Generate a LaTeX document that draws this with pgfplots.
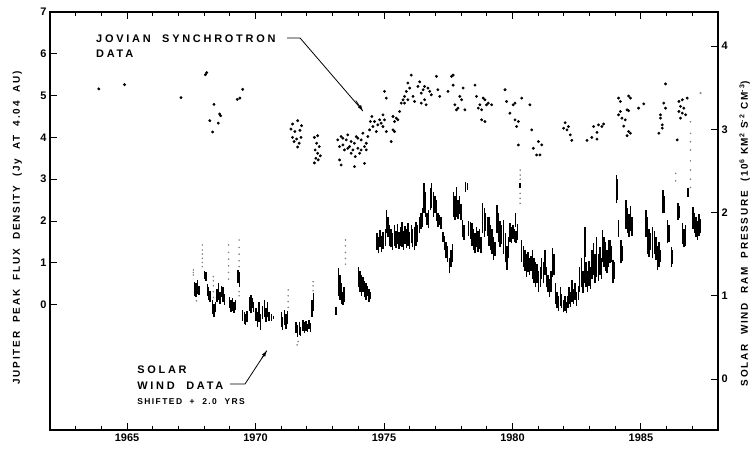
\documentclass[border=0pt]{standalone}
\usepackage{fontspec}
\setmainfont{Liberation Sans}
\usepackage{pgfplots}
\pgfplotsset{compat=1.18}
\usepackage{pgfplotstable}
\usetikzlibrary{arrows.meta}

\pgfplotstableread{
x y
1963.90 5.16
1964.90 5.26
1967.10 4.95
1968.05 5.50
1968.10 5.55
1968.22 4.40
1968.33 4.13
1968.38 4.79
1968.55 4.34
1968.60 4.56
1968.64 4.52
1969.29 4.91
1969.39 4.94
1969.50 5.15
1971.38 4.20
1971.44 4.32
1971.44 4.00
1971.50 3.90
1971.53 4.14
1971.60 3.96
1971.64 4.40
1971.64 3.77
1971.70 3.86
1971.73 4.17
1971.77 4.00
1971.79 4.28
1972.29 4.00
1972.29 3.39
1972.32 3.70
1972.35 3.50
1972.38 3.86
1972.42 4.04
1972.42 3.62
1972.44 3.46
1972.48 3.78
1972.52 3.56
1973.20 3.94
1973.27 3.78
1973.33 4.02
1973.40 3.82
1973.46 3.70
1973.53 3.94
1973.59 4.06
1973.66 3.78
1973.72 3.62
1973.79 3.70
1973.85 3.86
1973.88 3.54
1973.92 4.02
1973.98 3.74
1974.05 3.62
1974.11 3.94
1974.18 4.10
1974.24 3.78
1974.31 3.70
1974.37 4.02
1974.44 4.18
1974.47 4.38
1974.53 4.50
1974.57 4.26
1974.63 4.38
1974.70 4.14
1974.76 4.30
1974.83 4.42
1973.27 3.46
1973.33 3.34
1973.85 3.30
1974.24 3.38
1973.40 3.98
1973.72 3.90
1973.98 3.98
1974.31 3.86
1973.59 3.74
1974.11 3.70
1974.96 4.54
1975.02 4.42
1974.89 4.34
1974.96 4.26
1975.09 4.14
1975.35 4.50
1975.41 4.38
1975.48 4.46
1975.54 4.42
1975.35 4.18
1975.28 3.90
1975.41 4.14
1975.02 5.10
1975.09 4.94
1975.61 4.62
1975.67 4.82
1975.74 4.90
1975.80 4.98
1975.87 5.10
1975.93 5.30
1976.00 5.18
1975.93 4.90
1976.06 5.49
1976.13 4.98
1976.19 4.86
1976.32 5.22
1976.39 5.33
1976.45 5.06
1976.52 5.14
1976.58 4.90
1976.64 4.78
1976.71 5.18
1976.78 5.10
1976.84 5.02
1975.80 4.82
1976.45 4.82
1976.58 5.22
1977.04 5.46
1977.10 5.14
1977.17 4.98
1977.49 5.10
1977.63 5.46
1977.69 5.49
1977.69 5.25
1977.76 4.78
1977.82 4.66
1977.88 4.70
1977.95 4.98
1978.02 4.90
1978.08 5.18
1978.15 4.66
1978.54 5.25
1978.60 4.98
1978.67 4.70
1978.73 4.78
1978.80 4.66
1978.86 4.94
1978.93 4.90
1978.99 4.78
1979.06 4.82
1979.19 4.78
1978.80 4.42
1978.93 4.38
1979.71 5.14
1979.77 4.86
1979.90 4.58
1980.03 4.78
1980.10 4.82
1980.10 4.42
1980.23 4.38
1980.36 4.94
1980.16 4.26
1980.68 4.78
1980.75 4.18
1980.23 3.82
1980.81 3.74
1980.94 3.58
1981.07 3.58
1981.01 3.90
1981.14 3.82
1982.05 4.35
1981.99 4.22
1982.12 4.18
1982.18 4.26
1982.25 4.06
1982.31 3.93
1982.90 3.93
1983.09 4.00
1983.29 3.96
1983.16 4.26
1983.29 4.12
1983.35 4.30
1983.55 4.32
1983.48 4.26
1984.13 4.94
1984.20 4.86
1984.52 4.99
1984.59 4.94
1984.20 4.62
1984.13 4.54
1984.26 4.46
1984.39 4.42
1984.46 4.66
1984.52 4.64
1984.33 4.27
1984.52 4.14
1984.59 4.10
1984.46 4.04
1984.91 4.70
1985.11 4.80
1985.96 5.28
1985.89 4.82
1985.96 4.70
1985.76 4.54
1985.76 4.46
1985.83 4.30
1985.83 4.22
1985.70 4.10
1986.41 3.94
1986.48 4.86
1986.61 4.90
1986.54 4.74
1986.48 4.62
1986.61 4.58
1986.74 4.54
1986.67 4.70
1986.80 4.94
1986.54 4.46
}\jovian

\pgfplotstableread{
x lo hi
1967.62 1.00 1.17
1967.68 0.98 1.15
1967.74 1.02 1.19
1967.80 1.01 1.12
1968.02 1.20 1.30
1968.07 1.18 1.28
1968.12 1.00 1.14
1968.17 0.95 1.10
1968.22 0.93 1.06
1968.33 0.78 0.95
1968.38 0.75 0.90
1968.43 0.80 0.93
1968.50 0.92 1.08
1968.56 0.95 1.15
1968.62 0.90 1.05
1968.68 0.98 1.12
1968.74 0.93 1.10
1968.80 0.89 1.02
1968.98 0.85 0.99
1969.04 0.80 0.95
1969.10 0.82 0.97
1969.16 0.79 0.92
1969.22 0.83 0.95
1969.32 1.15 1.31
1969.37 1.10 1.28
1969.50 0.70 0.83
1969.56 0.66 0.80
1969.62 0.65 0.78
1969.67 0.68 0.82
1969.76 0.82 0.98
1969.82 0.79 1.01
1969.88 0.85 0.97
1969.93 0.80 0.92
1970.02 0.70 0.85
1970.08 0.62 0.80
1970.14 0.68 0.93
1970.20 0.59 0.78
1970.28 0.72 0.88
1970.34 0.75 0.95
1970.40 0.69 0.85
1970.46 0.74 0.92
1970.52 0.70 0.80
1970.62 0.70 0.78
1970.70 0.72 0.76
1971.00 0.62 0.80
1971.06 0.59 0.75
1971.12 0.65 0.83
1971.18 0.60 0.78
1971.24 0.66 0.82
1971.58 0.55 0.69
1971.64 0.51 0.65
1971.70 0.53 0.68
1971.76 0.52 0.62
1971.84 0.58 0.71
1971.90 0.55 0.68
1971.96 0.58 0.70
1972.02 0.56 0.66
1972.08 0.60 0.71
1972.14 0.57 0.67
1972.20 0.75 0.95
1972.26 0.82 1.03
1973.13 0.77 0.87
1973.22 1.00 1.33
1973.28 0.95 1.25
1973.34 0.90 1.15
1973.40 0.89 1.05
1973.45 0.92 1.10
1974.00 1.10 1.35
1974.06 1.05 1.30
1974.12 1.00 1.25
1974.18 1.05 1.22
1974.24 0.98 1.18
1974.30 0.95 1.15
1974.36 1.00 1.12
1974.42 0.93 1.08
1974.48 0.96 1.05
1974.72 1.55 1.75
1974.78 1.51 1.70
1974.84 1.58 1.79
1974.90 1.53 1.72
1974.96 1.56 1.76
1975.05 1.60 1.80
1975.10 1.75 2.03
1975.16 1.70 1.95
1975.22 1.60 1.85
1975.28 1.58 1.80
1975.34 1.55 1.75
1975.40 1.60 1.85
1975.46 1.57 1.78
1975.52 1.62 1.86
1975.58 1.56 1.76
1975.64 1.60 1.82
1975.70 1.58 1.89
1975.76 1.55 1.78
1975.82 1.62 1.84
1975.88 1.57 1.80
1975.94 1.60 1.87
1976.00 1.56 1.77
1976.06 1.63 1.85
1976.12 1.58 1.80
1976.18 1.55 1.82
1976.24 1.60 1.89
1976.30 1.65 1.85
1976.38 1.75 1.95
1976.44 1.80 1.99
1976.50 1.82 2.05
1976.55 2.00 2.35
1976.61 1.95 2.25
1976.67 1.85 2.00
1976.73 1.81 2.03
1976.80 2.03 2.30
1976.86 2.05 2.35
1976.92 1.95 2.25
1976.98 2.00 2.20
1977.04 1.90 2.15
1977.10 1.83 1.99
1977.16 1.85 1.97
1977.22 1.80 1.95
1977.30 1.65 1.77
1977.36 1.55 1.72
1977.42 1.45 1.65
1977.48 1.40 1.60
1977.54 1.27 1.45
1977.60 1.35 1.55
1977.66 1.40 1.62
1977.70 1.95 2.25
1977.76 1.91 2.20
1977.82 1.95 2.31
1977.88 1.92 2.15
1977.94 1.98 2.20
1978.00 1.91 2.10
1978.06 1.70 1.91
1978.12 1.67 1.85
1978.18 2.25 2.37
1978.24 2.27 2.35
1978.30 1.72 1.90
1978.36 1.68 1.88
1978.42 1.60 1.87
1978.48 1.55 1.80
1978.54 1.51 1.75
1978.60 1.58 1.82
1978.66 1.53 1.78
1978.72 1.56 1.80
1978.78 1.51 1.70
1978.84 1.75 2.11
1978.90 1.71 2.05
1978.96 1.78 2.00
1979.02 1.72 1.95
1979.08 1.60 1.95
1979.14 1.55 1.85
1979.20 1.50 1.80
1979.26 1.43 1.70
1979.32 1.48 1.65
1979.40 1.75 2.09
1979.46 1.65 2.00
1979.52 1.59 1.90
1979.58 1.62 1.85
1979.66 1.50 1.91
1979.72 1.40 1.75
1979.78 1.31 1.60
1979.84 1.45 1.70
1979.90 1.65 1.87
1979.96 1.63 1.82
1980.02 1.68 1.85
1980.08 1.65 1.80
1980.12 1.83 1.99
1980.14 1.63 1.78
1980.20 1.67 1.86
1980.30 2.29 2.35
1980.36 1.40 1.67
1980.42 1.35 1.60
1980.48 1.30 1.55
1980.54 1.23 1.50
1980.60 1.28 1.52
1980.66 1.25 1.45
1980.72 1.30 1.48
1980.78 1.20 1.55
1980.84 1.15 1.45
1980.90 1.10 1.40
1980.96 1.15 1.38
1981.02 1.05 1.30
1981.08 1.10 1.35
1981.14 1.20 1.45
1981.20 1.15 1.40
1981.26 1.25 1.55
1981.32 1.10 1.35
1981.38 1.05 1.25
1981.44 0.99 1.20
1981.50 1.05 1.30
1981.56 1.23 1.57
1981.62 1.25 1.50
1981.68 0.90 1.15
1981.74 0.85 1.05
1981.80 0.82 1.00
1981.86 0.88 1.10
1981.92 0.85 1.02
1981.98 0.80 0.95
1982.04 0.82 1.00
1982.10 0.79 0.92
1982.16 0.85 1.00
1982.20 0.90 1.10
1982.26 0.87 1.05
1982.32 0.92 1.19
1982.38 0.90 1.08
1982.44 0.95 1.15
1982.50 0.88 1.05
1982.56 0.95 1.12
1982.62 1.05 1.35
1982.68 1.10 1.45
1982.74 1.03 1.30
1982.80 1.15 1.47
1982.83 1.47 1.83
1982.86 1.10 1.40
1982.92 1.05 1.30
1982.98 1.12 1.42
1983.04 1.08 1.35
1983.10 1.20 1.55
1983.16 1.25 1.63
1983.22 1.15 1.50
1983.28 1.22 1.71
1983.34 1.18 1.50
1983.40 1.25 1.58
1983.46 1.20 1.45
1983.50 1.40 1.79
1983.56 1.35 1.70
1983.62 1.30 1.65
1983.68 1.27 1.55
1983.74 1.35 1.67
1983.80 1.39 1.67
1983.86 1.40 1.60
1983.92 1.15 1.43
1983.98 1.20 1.40
1984.04 2.11 2.45
1984.09 2.15 2.40
1984.12 1.71 1.91
1984.22 1.39 1.67
1984.28 1.42 1.60
1984.42 1.80 2.15
1984.48 1.75 2.05
1984.54 1.71 1.98
1984.60 1.78 2.08
1984.66 1.72 1.95
1985.20 1.71 2.03
1985.26 1.50 1.95
1985.32 1.47 1.80
1985.38 1.55 1.75
1985.46 1.45 1.83
1985.52 1.50 1.78
1985.58 1.43 1.70
1985.64 1.31 1.60
1985.70 1.35 1.65
1985.76 1.40 1.55
1985.86 1.99 2.27
1985.92 2.00 2.20
1986.04 1.63 1.91
1986.10 1.65 1.85
1986.18 1.35 1.59
1986.24 1.38 1.55
1986.44 1.91 2.11
1986.50 1.93 2.08
1986.62 1.62 1.87
1986.68 1.59 1.80
1986.74 1.60 1.85
1986.83 2.19 2.29
1987.02 1.80 2.07
1987.08 1.75 2.00
1987.14 1.70 1.95
1987.20 1.67 1.90
1987.26 1.72 1.98
1987.32 1.75 1.92
}\wind

\pgfplotstableread{
x y
1967.58 1.25
1967.58 1.28
1967.58 1.31
1967.70 0.94
1967.93 1.35
1967.93 1.40
1967.93 1.45
1967.93 1.50
1967.93 1.55
1967.93 1.61
1968.36 0.98
1968.36 1.05
1968.36 1.12
1968.36 1.18
1968.36 1.23
1968.95 1.20
1968.95 1.28
1968.95 1.36
1968.95 1.44
1968.95 1.52
1968.95 1.61
1969.36 1.00
1969.36 1.05
1969.36 1.35
1969.36 1.42
1969.36 1.50
1969.36 1.58
1969.36 1.67
1971.27 0.86
1971.27 0.93
1971.27 1.00
1971.27 1.07
1971.62 0.41
1971.66 0.45
1972.24 1.06
1972.24 1.12
1972.24 1.17
1973.50 1.38
1973.50 1.45
1973.50 1.52
1973.50 1.60
1973.50 1.67
1980.30 2.11
1980.30 2.17
1980.30 2.23
1980.30 2.40
1980.30 2.45
1980.30 2.51
1986.35 2.38
1986.35 2.47
1986.93 2.30
1986.93 2.40
1986.93 2.51
1986.93 2.62
1986.93 2.75
1986.93 2.85
1986.93 2.95
1986.93 3.09
}\windfaint

\newcommand\ylbl{\fontsize{10}{12}\selectfont\bfseries\addfontfeature{LetterSpace=18}}
\newcommand\lbl{\fontsize{11}{12}\selectfont\bfseries\addfontfeature{LetterSpace=25}}
\newcommand\tkl{\fontsize{11}{12}\selectfont\bfseries}

\begin{document}
\begin{tikzpicture}
\begin{axis}[
  scale only axis, width=668bp, height=418bp,
  xmin=1962, xmax=1988, ymin=-3, ymax=7,
  xtick={1965,1970,1975,1980,1985},
  xticklabels={1965,1970,1975,1980,1985},
  minor xtick={1963,1964,1966,1967,1968,1969,1971,1972,1973,1974,1976,1977,1978,1979,1981,1982,1983,1984,1986,1987},
  ytick={0,1,2,3,4,5,6,7},
  xtick pos=both, xticklabel pos=bottom,
  ytick pos=left,
  tick align=inside,
  major tick length=7bp, minor tick length=4bp,
  axis line style={line width=1.1bp},
  every tick/.style={black, line width=0.9bp},
  /pgf/number format/assume math mode=true,
  ticklabel style={font=\tkl},
  every axis y label/.style={at={(axis description cs:-0.049,0.484)}, rotate=90, anchor=center},
  ylabel={\ylbl JUPITER\ \ PEAK\ \ FLUX\ \ DENSITY\ \ (Jy\ \ AT\ \ 4.04\ \ AU)},
]
\coordinate (SW) at (rel axis cs:0,0);
\coordinate (NE) at (rel axis cs:1,1);
\addplot[only marks, mark=*, mark size=1.25bp, black] table[x=x,y=y] {\jovian};
\addplot[only marks, mark=*, mark size=0.9bp, black!45] coordinates {(1987.32,5.06)};
\draw[line width=0.8bp] (axis cs:1971.23,6.38) -- (axis cs:1971.73,6.38) -- (axis cs:1974.18,4.63);
\draw[line width=0.8bp, -{Latex[length=6bp,width=4bp]}] (axis cs:1973.9,4.88) -- (axis cs:1974.18,4.63);
\node[anchor=base west, inner sep=0pt, font=\lbl] at (axis cs:1963.79,6.28) {JOVIAN\ \ SYNCHROTRON};
\node[anchor=base west, inner sep=0pt, font=\lbl] at (axis cs:1963.79,5.90) {DATA};
\draw[line width=0.8bp] (axis cs:1969.01,-1.90) -- (axis cs:1969.59,-1.90) -- (axis cs:1970.44,-1.10);
\draw[line width=0.8bp, -{Latex[length=6bp,width=4bp]}] (axis cs:1970.25,-1.28) -- (axis cs:1970.44,-1.10);
\node[anchor=base west, inner sep=0pt, font=\lbl] at (axis cs:1965.39,-1.64) {SOLAR};
\node[anchor=base west, inner sep=0pt, font=\lbl] at (axis cs:1965.39,-2.02) {WIND\ \ DATA};
\node[anchor=base west, inner sep=0pt, font=\fontsize{8.5}{10}\selectfont\bfseries\addfontfeature{LetterSpace=17}] at (axis cs:1965.39,-2.40) {SHIFTED\ \ +\ \ 2.0\ \ YRS};
\end{axis}
\begin{axis}[
  scale only axis, width=668bp, height=418bp,
  xmin=1962, xmax=1988, ymin=-0.612, ymax=4.408,
  axis x line=none, axis y line*=right,
  ytick={0,1,2,3,4},
  tick align=inside,
  major tick length=7bp,
  axis line style={line width=1.1bp},
  every tick/.style={black, line width=0.9bp},
  /pgf/number format/assume math mode=true,
  ticklabel style={font=\tkl},
  every axis y label/.style={at={(axis description cs:1.04,0.47)}, rotate=90, anchor=center},
  ylabel={\ylbl SOLAR\ \ WIND\ \ RAM\ \ PRESSURE\ \ (10\textsuperscript{6}\ KM\textsuperscript{2}\ S\textsuperscript{-2}\ CM\textsuperscript{-3})},
]
\addplot[draw=none, mark=none, error bars/.cd, y dir=plus, y explicit, error mark=none,
  error bar style={draw=black, line width=1.4bp}]
  table[x=x, y=lo, y error plus expr=\thisrow{hi}-\thisrow{lo}] {\wind};
\addplot[only marks, mark=*, mark size=0.55bp, black!50] table[x=x,y=y] {\windfaint};
\end{axis}
\pgfresetboundingbox
\path[use as bounding box] ([shift={(-50bp,-19bp)}]SW) rectangle ([shift={(36bp,12bp)}]NE);
\end{tikzpicture}
\end{document}
